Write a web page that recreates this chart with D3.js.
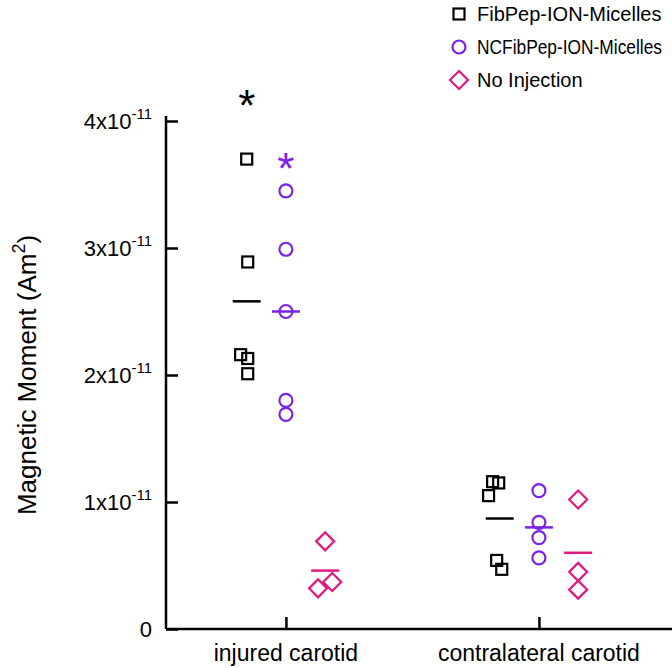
<!DOCTYPE html>
<html><head><meta charset="utf-8">
<script src="https://cdn.jsdelivr.net/npm/d3@7"></script>
<style>body{margin:0;background:#fff}text{font-family:Arial,"Liberation Sans",sans-serif}</style>
</head><body><svg id="c" width="672" height="668"></svg>
<script>
const categories = ["injured carotid", "contralateral carotid"];
const seriesNames = ["FibPep-ION-Micelles", "NCFibPep-ION-Micelles", "No Injection"];
const seriesColors = ["#000000", "#7b22e8", "#e01a80"];
// values in units of 1e-11 Am^2, [category][series]
const fibPep = [[3.70, 2.89, 2.16, 2.13, 2.01], [1.16, 1.15, 1.05, 0.54, 0.47]];
const ncFibPep = [[3.45, 2.99, 2.50, 1.80, 1.69], [1.09, 0.84, 0.72, 0.56]];
const noInj = [[0.69, 0.32, 0.37], [1.02, 0.45, 0.31]];
// small horizontal jitter (fraction of category spacing)
const fibJitter = [[0, 0.004, -0.024, 0.004, 0.004], [-0.028, -0.004, -0.044, -0.012, 0.008]];
const ncJitter = [[0, 0, 0, 0, 0], [0, 0, 0, 0]];
const noJitter = [[0, -0.028, 0.028], [0, 0, 0]];
const means = [[2.58, 2.50, 0.46], [0.87, 0.80, 0.60]];
const stars = [[4.19, 3.69, null], [null, null, null]]; // significance markers
const yTicks = [0, 1, 2, 3, 4];

const svg = d3.select("#c");
const x = d3.scaleLinear().domain([-0.474, 1.526]).range([166, 672]);
const y = d3.scaleLinear().domain([0, 4]).range([629, 121]);
const seriesOffset = [-0.155, 0, 0.155];
const allData = [fibPep, ncFibPep, noInj];
const allJit = [fibJitter, ncJitter, noJitter];

const ya = d3.axisLeft(y).tickValues(yTicks).tickSize(-12).tickFormat("");
svg.append("g").attr("transform","translate(166,0)").call(ya)
  .call(g=>{g.select(".domain").attr("d","M0,629V116").attr("stroke","#000").attr("stroke-width",2.5);
            g.selectAll(".tick line").attr("stroke-width",2.5);});
const xa = d3.axisBottom(x).tickValues([0,1]).tickSize(-12).tickFormat("");
svg.append("g").attr("transform","translate(0,629)").call(xa)
  .call(g=>{g.select(".domain").attr("d","M166,0H672").attr("stroke","#000").attr("stroke-width",2.5);
            g.selectAll(".tick line").attr("stroke-width",2.5);});
yTicks.forEach(t=>{
  const tx = svg.append("text").attr("x",152).attr("y",y(t)+8).attr("text-anchor","end").attr("font-size",22);
  if(t===0){tx.text("0");}
  else{tx.append("tspan").text(t+"x10");
       tx.append("tspan").attr("dy",-10).attr("font-size",15).text("-11");}
});
categories.forEach((c,i)=>svg.append("text").attr("x",x(i)).attr("y",661).attr("text-anchor","middle").attr("font-size",23).text(c));
svg.append("text").attr("transform","translate(36,375) rotate(-90)").attr("text-anchor","middle").attr("font-size",26)
  .call(t=>{t.append("tspan").text("Magnetic Moment (Am");t.append("tspan").attr("dy",-11).attr("font-size",18).text("2");t.append("tspan").attr("dy",11).text(")");});

function marker(g, s, cx, cy){
  const col = seriesColors[s];
  if(s===0) g.append("rect").attr("x",cx-5.5).attr("y",cy-5.5).attr("width",11).attr("height",11).attr("fill","none").attr("stroke",col).attr("stroke-width",2.2);
  else if(s===1) g.append("circle").attr("cx",cx).attr("cy",cy).attr("r",6.5).attr("fill","none").attr("stroke",col).attr("stroke-width",2.2);
  else g.append("path").attr("d",`M${cx},${cy-9}L${cx+9},${cy}L${cx},${cy+9}L${cx-9},${cy}Z`).attr("fill","none").attr("stroke",col).attr("stroke-width",2.2);
}
const g = svg.append("g");
categories.forEach((c,ci)=>{
  allData.forEach((ser,s)=>{
    const cx0 = ci + seriesOffset[s];
    ser[ci].forEach((v,k)=>marker(g, s, x(cx0 + allJit[s][ci][k]), y(v)));
    g.append("line").attr("x1",x(cx0)-14).attr("x2",x(cx0)+14).attr("y1",y(means[ci][s])).attr("y2",y(means[ci][s]))
      .attr("stroke",seriesColors[s]).attr("stroke-width",2.5);
    if(stars[ci][s]!=null) g.append("text").attr("x",x(cx0)).attr("y",y(stars[ci][s])+24).attr("text-anchor","middle")
      .attr("font-size",44).attr("fill",seriesColors[s]).text("*");
  });
});
seriesNames.forEach((n,i)=>{
  const ly = 14 + i*33;
  marker(svg, i, 459, ly);
  svg.append("text").attr("x",477).attr("y",ly+7).attr("font-size",20).attr("textLength", i===1?185:null)
    .attr("lengthAdjust","spacingAndGlyphs").text(n);
});
</script></body></html>
